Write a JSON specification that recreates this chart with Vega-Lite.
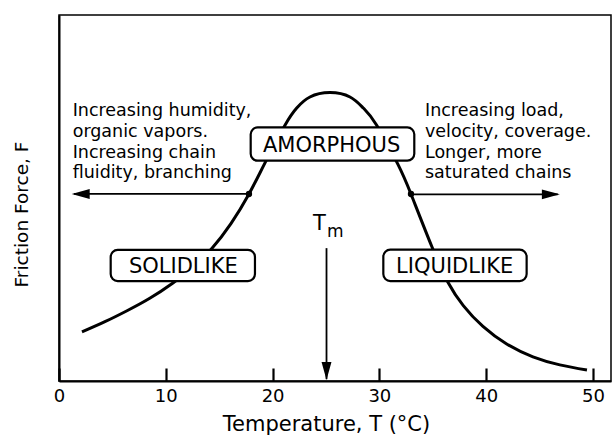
{
  "$schema": "https://vega.github.io/schema/vega-lite/v6.json",
  "width": 552,
  "height": 366,
  "autosize": {"type": "none"},
  "padding": {"left": 59, "top": 15, "right": 5, "bottom": 55},
  "background": "white",
  "config": {
    "font": "DejaVu Sans",
    "view": {"stroke": "#000", "strokeWidth": 1.5}
  },
  "datasets": {
    "curve": [
      {"T": 2.15, "F": 13.4},
      {"T": 4.3, "F": 16.2},
      {"T": 6.37, "F": 19.2},
      {"T": 8.5, "F": 22.6},
      {"T": 10.67, "F": 26.8},
      {"T": 12.5, "F": 31.0},
      {"T": 14.33, "F": 36.3},
      {"T": 16.1, "F": 43.0},
      {"T": 17.79, "F": 51.1},
      {"T": 19.29, "F": 59.6},
      {"T": 21.16, "F": 69.9},
      {"T": 22.26, "F": 74.6},
      {"T": 23.5, "F": 77.6},
      {"T": 25.37, "F": 78.8},
      {"T": 27.25, "F": 77.6},
      {"T": 28.49, "F": 74.6},
      {"T": 29.75, "F": 69.9},
      {"T": 31.74, "F": 59.2},
      {"T": 32.96, "F": 51.1},
      {"T": 34.93, "F": 36.6},
      {"T": 36.42, "F": 27.0},
      {"T": 37.86, "F": 20.6},
      {"T": 39.7, "F": 14.9},
      {"T": 41.92, "F": 10.1},
      {"T": 44.38, "F": 6.6},
      {"T": 46.9, "F": 4.4},
      {"T": 49.44, "F": 3.0}
    ],
    "boxes": [
      {"T": 17.95, "T2": 33.27, "F": 69.3, "F2": 60.2},
      {"T": 4.84, "T2": 18.35, "F": 35.8, "F2": 27.3},
      {"T": 30.37, "T2": 43.79, "F": 35.9, "F2": 27.3}
    ],
    "boxlabels": [
      {"T": 25.53, "F": 62.6, "label": "AMORPHOUS"},
      {"T": 11.64, "F": 29.6, "label": "SOLIDLIKE"},
      {"T": 37.05, "F": 29.5, "label": "LIQUIDLIKE"}
    ],
    "notes": [
      {"T": 1.28, "F": 72.49, "label": "Increasing humidity,"},
      {"T": 1.28, "F": 66.75, "label": "organic vapors."},
      {"T": 1.28, "F": 61.01, "label": "Increasing chain"},
      {"T": 1.28, "F": 55.38, "label": "fluidity, branching"},
      {"T": 34.27, "F": 72.49, "label": "Increasing load,"},
      {"T": 34.27, "F": 66.75, "label": "velocity, coverage."},
      {"T": 34.27, "F": 61.01, "label": "Longer, more"},
      {"T": 34.27, "F": 55.5, "label": "saturated chains"}
    ],
    "arrows": [
      {"T": 17.79, "F": 51.1, "T2": 1.4, "F2": 51.1},
      {"T": 32.96, "F": 51.0, "T2": 46.7, "F2": 51.0},
      {"T": 25.05, "F": 36.3, "T2": 25.05, "F2": 0.5}
    ],
    "heads": [
      {"T": 1.19, "F": 51.1, "dir": "left"},
      {"T": 46.9, "F": 51.0, "dir": "right"},
      {"T": 25.05, "F": 0.27, "dir": "down"}
    ],
    "dots": [
      {"T": 17.79, "F": 51.1},
      {"T": 32.96, "F": 51.1}
    ],
    "tm": [
      {"T": 24.39, "F": 41.26, "label": "T"},
      {"T": 25.09, "F": 39.34, "label": "m"}
    ]
  },
  "encoding": {
    "x": {
      "field": "T",
      "type": "quantitative",
      "scale": {"domain": [0, 51.69], "nice": false, "zero": false},
      "axis": {
        "values": [0, 10, 20, 30, 40, 50],
        "title": "Temperature, T (°C)",
        "titleFontSize": 21,
        "titleFontWeight": "normal",
        "titleColor": "#000",
        "titleX": 267,
        "titleY": 49,
        "titleAlign": "center",
        "titleBaseline": "alphabetic",
        "labelFontSize": 18,
        "labelColor": "#000",
        "labelBaseline": "alphabetic",
        "labelPadding": 33,
        "labelFlush": false,
        "tickSize": -13,
        "tickWidth": 2.2,
        "tickColor": "#000",
        "domainColor": "#000",
        "domainWidth": 2,
        "grid": false
      }
    },
    "y": {
      "field": "F",
      "type": "quantitative",
      "scale": {"domain": [0, 100], "nice": false, "zero": false},
      "axis": {
        "title": "Friction Force, F",
        "ticks": false,
        "labels": false,
        "grid": false,
        "domainColor": "#000",
        "domainWidth": 2,
        "titleFontSize": 18.5,
        "titleFontWeight": "normal",
        "titleColor": "#000",
        "titleAngle": -90,
        "titleX": -32,
        "titleY": 199,
        "titleAlign": "center",
        "titleBaseline": "alphabetic"
      }
    }
  },
  "layer": [
    {
      "data": {"name": "curve"},
      "mark": {"type": "line", "color": "#000", "strokeWidth": 3, "interpolate": "natural"},
      "encoding": {}
    },
    {
      "data": {"name": "boxes"},
      "mark": {"type": "rect", "fill": "white", "stroke": "#000", "strokeWidth": 2.2, "cornerRadius": 7},
      "encoding": {
        "x2": {"field": "T2"},
        "y2": {"field": "F2"}
      }
    },
    {
      "data": {"name": "boxlabels"},
      "mark": {"type": "text", "fontSize": 21, "align": "center", "baseline": "alphabetic", "color": "#000"},
      "encoding": {"text": {"field": "label"}}
    },
    {
      "data": {"name": "notes"},
      "mark": {"type": "text", "fontSize": 17.5, "align": "left", "baseline": "alphabetic", "color": "#000"},
      "encoding": {"text": {"field": "label"}}
    },
    {
      "data": {"name": "arrows"},
      "mark": {"type": "rule", "color": "#000", "strokeWidth": 1.8},
      "encoding": {
        "x2": {"field": "T2"},
        "y2": {"field": "F2"}
      }
    },
    {
      "data": {"name": "heads"},
      "mark": {"type": "point", "filled": true, "color": "#000", "opacity": 1, "size": 324, "strokeWidth": 0},
      "encoding": {
        "shape": {
          "field": "dir",
          "type": "nominal",
          "scale": {
            "domain": ["left", "right", "down"],
            "range": ["M0,0L2,-0.55L2,0.55Z", "M0,0L-2,-0.55L-2,0.55Z", "M0,0L-0.55,-2L0.55,-2Z"]
          },
          "legend": null
        }
      }
    },
    {
      "data": {"name": "dots"},
      "mark": {"type": "point", "filled": true, "shape": "circle", "color": "#000", "opacity": 1, "size": 40}
    },
    {
      "data": {"name": "tm"},
      "transform": [{"filter": "datum.label === 'T'"}],
      "mark": {"type": "text", "fontSize": 21, "align": "center", "baseline": "alphabetic", "color": "#000"},
      "encoding": {"text": {"field": "label"}}
    },
    {
      "data": {"name": "tm"},
      "transform": [{"filter": "datum.label === 'm'"}],
      "mark": {"type": "text", "fontSize": 17, "align": "left", "baseline": "alphabetic", "color": "#000"},
      "encoding": {"text": {"field": "label"}}
    }
  ]
}
